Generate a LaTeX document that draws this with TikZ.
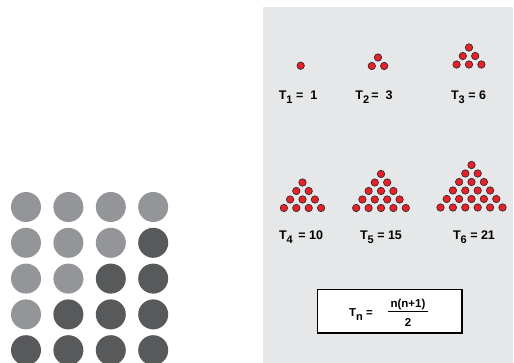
\documentclass[tikz,border=0pt]{standalone}
\usepackage{fontspec}
\setmainfont{Liberation Sans}
\definecolor{panelgray}{HTML}{E6E7E8}
\definecolor{lightdot}{HTML}{939598}
\definecolor{darkdot}{HTML}{58595B}
\definecolor{reddot}{HTML}{E8202A}
\definecolor{dotedge}{HTML}{3A2A2A}
\newcommand\lowsub[1]{\raisebox{-4pt}{\fontsize{11}{11}\selectfont #1}}
\tikzset{
  lbl/.style={anchor=base, inner sep=0pt, font=\fontsize{12.5}{14}\selectfont\bfseries},
  frm/.style={inner sep=0pt, font=\fontsize{11.5}{13}\selectfont\bfseries},
  rdot/.style={fill=reddot, draw=dotedge, line width=0.7pt},
  bigdot/.style={draw=none},
}
\begin{document}
\begin{tikzpicture}[x=1pt,y=-1pt]
\useasboundingbox (0,0) rectangle (514,363);
\fill[white] (0,0) rectangle (514,363);
% panel
\fill[panelgray] (263,7) rectangle (513,363);
% left grid of circles
\foreach \r in {0,...,4}{
  \foreach \c in {0,...,3}{
    \pgfmathtruncatemacro{\dk}{(\r+\c)>=4 ? 1 : 0}
    \ifnum\dk=1
      \fill[darkdot] (26+42.4*\c, 207+35.8*\r) circle (15);
    \else
      \fill[lightdot] (26+42.4*\c, 207+35.8*\r) circle (15);
    \fi
  }
}
% triangular numbers
\foreach \n/\cx/\yb in {1/300.7/65.7, 2/378/66, 3/469/64.5, 4/302.5/208, 5/381/208, 6/471.5/207.5}{
  \foreach \rr in {1,...,\n}{
    \foreach \j in {1,...,\rr}{
      \draw[rdot] ({\cx+(\j-1-(\rr-1)/2)*12.4}, {\yb-(\n-\rr)*8.5}) circle (3.7);
    }
  }
}
% labels
\node[lbl] (l1) at (298,100) {T\lowsub{1} = \ 1};
\node[lbl] (l2) at (374,100) {T\lowsub{2}\,= \ 3};
\node[lbl] (l3) at (468.5,100) {T\lowsub{3} = 6};
\node[lbl] (l4) at (301,240) {T\lowsub{4} \,= 10};
\node[lbl] (l5) at (381,240) {T\lowsub{5} = 15};
\node[lbl] (l6) at (474,240) {T\lowsub{6} = 21};
% formula box
\draw[fill=white, draw=black, line width=1.1pt] (317.5,289.5) rectangle (462,333);
\node[frm, anchor=base] (tn) at (361,316.5) {T\lowsub{n} =};
\node[frm, anchor=base] (num) at (408,308) {n(n+1)};
\node[frm, anchor=base] (den) at (408,326.5) {2};
\draw[line width=0.9pt] (388,311.5) -- (428,311.5);
\end{tikzpicture}
\end{document}
